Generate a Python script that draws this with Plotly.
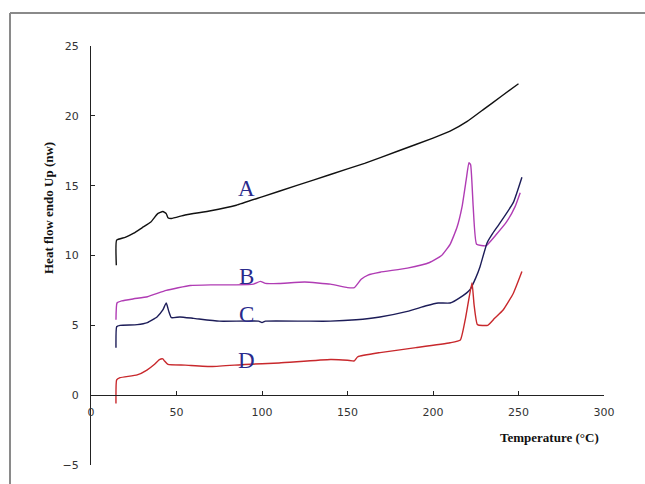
import plotly.graph_objects as go

# ---- data ----
a_t = [14.8, 15.0, 20, 25, 30, 35, 39, 42, 44, 45, 47, 55, 70, 85, 100, 120, 140, 160, 180, 200, 210, 220, 230, 240, 250]
a_y = [9.3, 11.1, 11.3, 11.6, 12.0, 12.4, 13.0, 13.15, 13.0, 12.7, 12.65, 12.9, 13.2, 13.6, 14.2, 15.0, 15.8, 16.6, 17.5, 18.4, 18.9, 19.6, 20.5, 21.4, 22.3]

b_t = [14.6, 15.2, 18, 25, 33, 44, 58, 70, 85, 95, 99, 102, 110, 125, 140, 150, 154, 158, 162, 169, 185, 198, 205, 210, 214, 217, 219.5, 221, 222, 223.5, 225.5, 231, 237, 243, 248, 251]
b_y = [5.4, 6.6, 6.75, 6.9, 7.05, 7.5, 7.85, 7.9, 7.9, 7.95, 8.15, 8.0, 8.0, 8.1, 7.95, 7.7, 7.7, 8.3, 8.6, 8.8, 9.1, 9.5, 10.0, 10.8, 12.0, 13.5, 15.5, 16.65, 16.5, 13.5, 10.8, 10.7, 11.5, 12.4, 13.5, 14.5]

c_t = [14.6, 15.0, 17, 27, 33, 38.6, 42, 44, 45.5, 47, 52, 60, 75, 98, 100, 102, 125, 140, 155, 169, 185, 196, 203, 210, 216, 221.6, 225, 227.5, 231.6, 235, 239, 247, 252]
c_y = [3.4, 4.9, 5.0, 5.05, 5.2, 5.6, 6.1, 6.6, 6.0, 5.55, 5.6, 5.5, 5.3, 5.3, 5.2, 5.3, 5.3, 5.3, 5.4, 5.6, 6.0, 6.4, 6.6, 6.6, 7.0, 7.55, 8.4, 9.2, 10.9, 11.6, 12.3, 13.8, 15.6]

d_t = [14.6, 15.0, 17, 27, 32.7, 37, 40, 42, 43, 45, 55, 71, 90, 110, 140, 150, 154, 156, 169, 190, 210, 216, 219, 222.8, 224, 226, 232, 236, 241, 247, 252]
d_y = [-0.6, 1.1, 1.25, 1.45, 1.8, 2.2, 2.55, 2.6, 2.45, 2.2, 2.15, 2.05, 2.2, 2.3, 2.55, 2.5, 2.45, 2.75, 3.05, 3.4, 3.75, 3.95, 5.5, 8.05, 6.5, 5.05, 5.0, 5.5, 6.1, 7.3, 8.85]

curve_labels = ["A", "B", "C", "D"]
label_t = [91, 91, 91, 91]
label_y = [14.8, 8.5, 5.75, 2.5]

tick_vals_x = [0, 50, 100, 150, 200, 250, 300]
tick_vals_y = [-5, 0, 5, 10, 15, 20, 25]

fig = go.Figure()
for t, y, col in [(a_t, a_y, "#111111"), (b_t, b_y, "#b03cb4"),
                  (c_t, c_y, "#1c1c58"), (d_t, d_y, "#c8282c")]:
    fig.add_trace(go.Scatter(x=t, y=y, mode="lines",
                             line=dict(color=col, width=1.4, shape="spline", smoothing=0.4),
                             showlegend=False, hoverinfo="skip"))

for lab, t, y in zip(curve_labels, label_t, label_y):
    fig.add_annotation(x=t, y=y, text=lab, showarrow=False,
                       font=dict(family="Liberation Serif", size=23, color="#2a2a8c"))

# axis titles
fig.add_annotation(xref="paper", yref="paper", x=(549 - 91) / 513, y=(465 - 437) / 419,
                   xanchor="center", yanchor="middle",
                   text="<b>Temperature (°C)</b>", showarrow=False,
                   font=dict(family="Liberation Serif", size=13, color="#111111"))
fig.add_annotation(xref="paper", yref="paper", x=(48 - 91) / 513, y=(465 - 208) / 419,
                   xanchor="center", yanchor="middle",
                   text="<b>Heat flow endo Up (nw)</b>", showarrow=False, textangle=-90,
                   font=dict(family="Liberation Serif", size=13, color="#111111"))

# outer frame (top and left)
fr_l = (10 - 91) / 513
fr_t = (465 - 13) / 419
fr_b = (465 - 490) / 419
fr_r = (650 - 91) / 513
fig.add_shape(type="line", xref="paper", yref="paper", x0=fr_l, x1=fr_r, y0=fr_t, y1=fr_t,
              line=dict(color="#8a8a8a", width=2))
fig.add_shape(type="line", xref="paper", yref="paper", x0=fr_l, x1=fr_l, y0=fr_b, y1=fr_t,
              line=dict(color="#8a8a8a", width=2))

tickfont = dict(family="DejaVu Sans", size=11, color="#333333")
fig.update_layout(
    width=645, height=484,
    margin=dict(l=91, r=41, t=46, b=19),
    paper_bgcolor="white", plot_bgcolor="white",
    xaxis=dict(range=[0, 300], tickvals=tick_vals_x, ticks="inside", ticklen=4,
               tickcolor="#222222", showline=True, linecolor="#222222", linewidth=1.2,
               showgrid=False, zeroline=False, anchor="free", position=1 / 6,
               tickfont=tickfont, ticklabelstandoff=7),
    yaxis=dict(range=[-5, 25], tickvals=tick_vals_y, ticks="inside", ticklen=4,
               tickcolor="#222222", showline=True, linecolor="#222222", linewidth=1.2,
               showgrid=False, zeroline=False, tickfont=tickfont, ticklabelstandoff=9),
)

fig.write_html("out.html")
